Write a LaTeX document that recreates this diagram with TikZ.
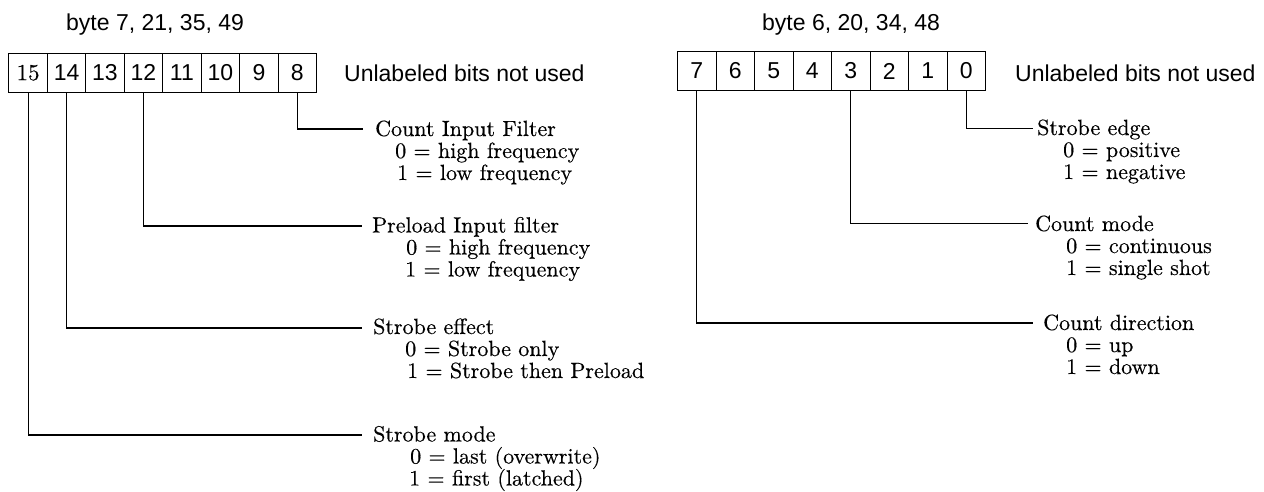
\documentclass[tikz,border=0pt]{standalone}
\usepackage{fontspec}
\newfontfamily\sansf{Liberation Sans}
\newfontfamily\serift[FakeBold=0.35]{lmroman10-regular.otf}
\begin{document}
\begin{tikzpicture}[x=1pt,y=-1pt,
  cell/.style={draw, line width=1.1pt, minimum width=38.5pt, minimum height=39pt,
    inner sep=0pt, anchor=north west, font=\sansf\fontsize{23}{23}\selectfont},
  conn/.style={line width=1.1pt},
  sanslab/.style={inner sep=0pt, anchor=base west, font=\sansf\fontsize{23}{23}\selectfont},
  head/.style={inner sep=0pt, anchor=base west, font=\serift\fontsize{22}{22}\selectfont},
]
\useasboundingbox (0,0) rectangle (1264,492);

% titles
\node[sanslab] (tl) at (66,31) {byte 7, 21, 35, 49};
\node[sanslab] (tr) at (762,31) {byte 6, 20, 34, 48};

% left register
\node[cell, font=\serift\fontsize{23}{23}\selectfont] (L15) at (8.3,52.7) {15};
\node[cell] (L14) at (46.8,52.7) {14};
\node[cell] (L13) at (85.2,52.7) {13};
\node[cell] (L12) at (123.7,52.7) {12};
\node[cell] (L11) at (162.1,52.7) {11};
\node[cell] (L10) at (200.6,52.7) {10};
\node[cell] (L9) at (239.1,52.7) {9};
\node[cell] (L8) at (277.5,52.7) {8};
\node[sanslab] (ul) at (344,81.5) {Unlabeled bits not used};

% right register
\node[cell] (R7) at (677,51) {7};
\node[cell] (R6) at (715.5,51) {6};
\node[cell] (R5) at (754,51) {5};
\node[cell] (R4) at (792.5,51) {4};
\node[cell] (R3) at (831,51) {3};
\node[cell] (R2) at (869.5,51) {2};
\node[cell] (R1) at (908,51) {1};
\node[cell] (R0) at (946.5,51) {0};
\node[sanslab] (ur) at (1015,81.5) {Unlabeled bits not used};

% left groups
\coordinate (e1) at (363,129);
\node[head] (h1) at (375,136) {Count Input Filter};
\node[head] (h1a) at (395,158) {0 = high frequency};
\node[head] (h1b) at (397,180) {1 = low frequency};
\draw[conn] (L8.south) |- (e1);

\coordinate (e2) at (362,226);
\node[head] (h2) at (372,232.5) {Preload Input filter};
\node[head] (h2a) at (406,254.5) {0 = high frequency};
\node[head] (h2b) at (405,276.5) {1 = low frequency};
\draw[conn] (L12.south) |- (e2);

\coordinate (e3) at (362,328);
\node[head] (h3) at (373,334) {Strobe effect};
\node[head] (h3a) at (405,356) {0 = Strobe only};
\node[head] (h3b) at (407,378) {1 = Strobe then Preload};
\draw[conn] (L14.south) |- (e3);

\coordinate (e4) at (362,435);
\node[head] (h4) at (373,441.5) {Strobe mode};
\node[head] (h4a) at (410,463.5) {0 = last (overwrite)};
\node[head] (h4b) at (409,485.5) {1 = first (latched)};
\draw[conn] (L15.south) |- (e4);

% right groups
\coordinate (f1) at (1033,128.3);
\node[head] (g1) at (1037,135) {Strobe edge};
\node[head] (g1a) at (1063,157) {0 = positive};
\node[head] (g1b) at (1063,179) {1 = negative};
\draw[conn] (R0.south) |- (f1);

\coordinate (f2) at (1028,223.3);
\node[head] (g2) at (1035,231) {Count mode};
\node[head] (g2a) at (1066,253) {0 = continuous};
\node[head] (g2b) at (1066,275) {1 = single shot};
\draw[conn] (R3.south) |- (f2);

\coordinate (f3) at (1033,323);
\node[head] (g3) at (1043,330) {Count direction};
\node[head] (g3a) at (1066,352) {0 = up};
\node[head] (g3b) at (1066,374) {1 = down};
\draw[conn] (R7.south) |- (f3);
\end{tikzpicture}
\end{document}
